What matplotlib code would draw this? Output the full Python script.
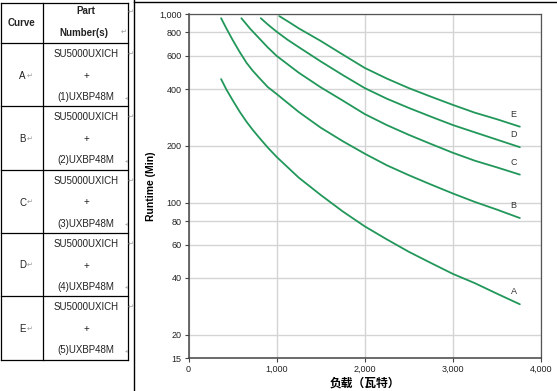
import matplotlib
matplotlib.use("Agg")
import matplotlib.pyplot as plt
from matplotlib.ticker import FixedLocator, FuncFormatter, NullLocator

plt.rcParams['font.family'] = ['Liberation Sans', 'DejaVu Sans']

# ---------------- data ----------------
curve_names = ["A", "B", "C", "D", "E"]
part_numbers = ["(1)UXBP48M", "(2)UXBP48M", "(3)UXBP48M", "(4)UXBP48M", "(5)UXBP48M"]
base_part = "SU5000UXICH"

load_a = [370, 430, 500, 580, 660, 730, 800, 900, 1000, 1250, 1500, 1750, 2000, 2250, 2500, 2750, 3000, 3250, 3500, 3760]
run_a = [452, 398, 350, 304, 268, 243, 222, 196, 175, 136, 110, 90, 75, 64, 55, 48, 42, 37.5, 33, 29]

load_b = [370, 430, 500, 580, 660, 730, 800, 900, 1000, 1250, 1500, 1750, 2000, 2250, 2500, 2750, 3000, 3250, 3500, 3760]
run_b = [950, 838, 730, 630, 550, 500, 460, 410, 377, 303, 250, 212, 182, 158, 140, 125, 112, 101, 92, 83]

load_c = [600, 700, 800, 900, 1000, 1250, 1500, 1750, 2000, 2250, 2500, 2750, 3000, 3250, 3500, 3760]
run_c = [950, 835, 745, 665, 600, 489, 409, 348, 295, 258, 229, 205, 184, 167, 154, 141]

load_d = [820, 900, 1000, 1125, 1250, 1500, 1750, 2000, 2250, 2500, 2750, 3000, 3250, 3500, 3760]
run_d = [950, 880, 806, 730, 668, 561, 475, 405, 356, 318, 286, 258, 236, 216, 197]

load_e = [1030, 1150, 1250, 1500, 1750, 2000, 2250, 2500, 2750, 3000, 3250, 3500, 3760]
run_e = [975, 900, 840, 720, 610, 518, 455, 405, 365, 330, 300, 277, 253]

label_x = [3690, 3690, 3690, 3690, 3680]
label_y = [34, 97, 163, 230, 295]

x_ticks = [0, 1000, 2000, 3000, 4000]
y_ticks = [15, 20, 40, 60, 80, 100, 200, 400, 600, 800, 1000]

loads = [load_a, load_b, load_c, load_d, load_e]
runs = [run_a, run_b, run_c, run_d, run_e]

# ---------------- figure ----------------
W, H = 557, 391
fig = plt.figure(figsize=(W / 100, H / 100), dpi=100)
fig.patch.set_facecolor("white")

ax = fig.add_axes([188.5 / W, 1 - 358.3 / H, (541 - 188.5) / W, (358.3 - 14) / H])
green = "#22975a"
for xs, ys in zip(loads, runs):
    ax.plot(xs, ys, color=green, lw=1.3, solid_capstyle="round",
            solid_joinstyle="round", zorder=3)
for name, lx, ly in zip(curve_names, label_x, label_y):
    ax.text(lx, ly, name, fontsize=6.5, color="#333333", ha="center", va="center", zorder=4)

ax.set_yscale("log")
ax.set_xlim(0, 4000)
ax.set_ylim(15, 1000)
ax.xaxis.set_major_locator(FixedLocator(x_ticks))
ax.yaxis.set_major_locator(FixedLocator(y_ticks))
ax.yaxis.set_minor_locator(NullLocator())
fmt = FuncFormatter(lambda v, p: f"{int(round(v)):,}")
ax.xaxis.set_major_formatter(fmt)
ax.yaxis.set_major_formatter(fmt)
ax.grid(True, color="#d4d4d4", lw=1.0, zorder=0)
ax.set_axisbelow(True)
ax.tick_params(axis="both", which="major", length=3, width=0.8, color="#444444",
               labelsize=6.5, labelcolor="#222222", pad=2)
for side in ["left", "bottom"]:
    ax.spines[side].set_color("#444444")
    ax.spines[side].set_linewidth(1.1)
for side in ["top", "right"]:
    ax.spines[side].set_color("#555555")
    ax.spines[side].set_linewidth(0.9)
ax.set_ylabel("Runtime (Min)", fontsize=7.5, fontweight="bold", labelpad=2)
ax.set_xlabel("负载（瓦特）", fontsize=8.5, fontweight="bold",
              family=["Noto Sans CJK SC", "DejaVu Sans"], labelpad=1.5)

# ---------------- overlay (table + frame lines) in pixel coords ----------------
ov = fig.add_axes([0, 0, 1, 1], zorder=-1)
ov.set_xlim(0, W)
ov.set_ylim(H, 0)
ov.axis("off")

# divider lines
ov.plot([134.3, 134.3], [0, H], color="black", lw=1.0)
ov.plot([134.3, W], [1.7, 1.7], color="black", lw=1.0)

# table grid
tl, tm, tr = 0.8, 43.3, 128.3
row_edges = [2.7, 43.3, 106.3, 170, 233, 296.3, 359.5]
for yv in row_edges:
    ov.plot([tl, tr], [yv, yv], color="black", lw=0.9)
for xv in [tl, tm, tr]:
    ov.plot([xv, xv], [row_edges[0], row_edges[-1]], color="black", lw=0.9)

tfs = 7.0
ov.text(22, 22.5, "Curve", fontsize=tfs, fontweight="bold", ha="center", va="center", color="#222222")
ov.text(86, 11, "Part", fontsize=tfs, fontweight="bold", ha="center", va="center", color="#222222")
ov.text(84, 32.5, "Number(s)", fontsize=tfs, fontweight="bold", ha="center", va="center", color="#222222")
ov.text(123.5, 32.5, "↵", fontsize=5, color="#999999", ha="center", va="center")
ov.text(130.5, 12.5, "↵", fontsize=5, color="#999999", ha="center", va="center")

for i, (name, pn) in enumerate(zip(curve_names, part_numbers)):
    top = row_edges[i + 1]
    ov.text(86, top + 11, base_part, fontsize=tfs, ha="center", va="center", color="#222222")
    ov.text(86, top + 32.5, "+", fontsize=tfs, ha="center", va="center", color="#222222")
    ov.text(86, top + 54, pn, fontsize=tfs, ha="center", va="center", color="#222222")
    ov.text(22.5, top + 32.5, name, fontsize=tfs, ha="center", va="center", color="#222222")
    ov.text(29.5, top + 32.5, "↵", fontsize=5, color="#999999", ha="center", va="center")
    ov.text(130.5, top + 11, "↵", fontsize=5, color="#999999", ha="center", va="center")
    ov.text(126, top + 54, "◂", fontsize=4, color="#aaaaaa", ha="center", va="center")

fig.savefig("out.png", dpi=100, facecolor="white")
